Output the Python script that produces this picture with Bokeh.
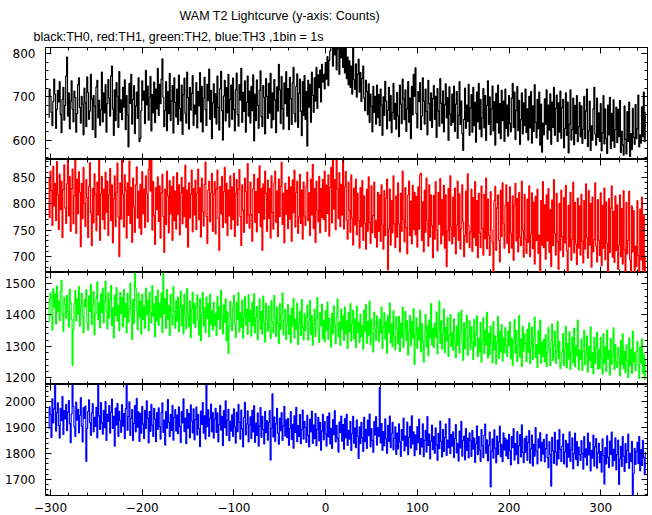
from bokeh.plotting import figure
from bokeh.models import Range1d, LinearAxis, SingleIntervalTicker, Title, CustomLabelingPolicy
from bokeh.layouts import column
from bokeh.embed import file_html
from bokeh.resources import INLINE

title_text = "WAM T2 Lightcurve (y-axis: Counts)"
subtitle_text = "black:TH0, red:TH1, green:TH2, blue:TH3 ,1bin = 1s"

t_start = -302  # first 1 s bin

th0 = [
    652, 718, 701, 664, 633, 689, 741, 706, 627, 671, 715, 688, 735, 659, 617, 694, 722, 646, 680, 748,
    792, 655, 709, 626, 690, 737, 671, 642, 713, 699, 618, 661, 728, 744, 675, 639, 701, 683, 612, 720,
    686, 631, 746, 710, 648, 667, 752, 695, 624, 703, 679, 606, 723, 738, 651, 692, 634, 670, 757, 642,
    709, 663, 728, 618, 684, 740, 697, 655, 748, 771, 672, 611, 716, 645, 733, 701, 629, 758, 664, 693,
    647, 722, 676, 739, 624, 703, 658, 584, 731, 685, 752, 637, 694, 726, 615, 679, 711, 650, 744, 596,
    604, 668, 737, 692, 713, 638, 761, 681, 725, 646, 699, 747, 621, 705, 663, 734, 640, 718, 672, 766,
    657, 729, 684, 741, 788, 699, 631, 668, 735, 622, 712, 661, 754, 645, 690, 726, 616, 744, 687, 653,
    718, 636, 750, 673, 644, 727, 613, 705, 743, 662, 639, 757, 698, 625, 722, 669, 708, 749, 634, 681,
    660, 733, 628, 712, 679, 756, 642, 724, 619, 697, 745, 670, 633, 729, 691, 764, 648, 715, 603, 686,
    730, 652, 707, 637, 748, 676, 623, 719, 759, 668, 600, 702, 738, 644, 721, 663, 752, 630, 694, 727,
    648, 743, 671, 621, 716, 755, 659, 632, 728, 692, 766, 641, 710, 666, 737, 618, 687, 748, 655, 713,
    639, 724, 668, 751, 598, 706, 645, 739, 680, 627, 715, 760, 654, 631, 726, 699, 614, 742, 701, 650,
    731, 662, 754, 628, 709, 647, 740, 693, 617, 723, 667, 775, 716, 638, 747, 672, 625, 732, 684, 758,
    655, 719, 624, 745, 696, 636, 732, 768, 661, 642, 724, 753, 629, 708, 741, 666, 610, 735, 657, 749,
    648, 712, 586, 738, 676, 729, 641, 757, 703, 664, 744, 690, 768, 673, 751, 721, 762, 688, 775, 734,
    752, 718, 779, 741, 793, 726, 784, 806, 822, 840, 771, 830, 797, 845, 762, 836, 811, 752, 828, 790,
    838, 768, 821, 755, 833, 742, 792, 728, 783, 722, 771, 706, 818, 739, 717, 776, 699, 752, 787, 711,
    756, 689, 742, 771, 697, 668, 738, 712, 659, 730, 641, 706, 678, 619, 724, 664, 701, 637, 727, 652,
    705, 633, 718, 681, 611, 700, 657, 736, 690, 626, 669, 722, 644, 703, 617, 664, 731, 648, 685, 625,
    710, 656, 608, 727, 683, 638, 741, 695, 647, 716, 620, 672, 735, 641, 697, 603, 724, 658, 752, 701,
    767, 661, 628, 712, 689, 733, 624, 655, 744, 690, 637, 718, 666, 612, 738, 684, 645, 709, 629, 696,
    726, 648, 701, 606, 719, 667, 632, 742, 685, 639, 714, 619, 682, 730, 651, 698, 599, 723, 660, 634,
    706, 641, 725, 620, 683, 712, 604, 657, 735, 636, 690, 615, 576, 648, 720, 627, 681, 643, 729, 611,
    674, 705, 618, 722, 633, 687, 595, 711, 642, 731, 625, 694, 607, 651, 719, 628, 703, 599, 680, 737,
    636, 700, 612, 672, 725, 621, 689, 588, 708, 640, 727, 616, 684, 603, 715, 645, 690, 597, 718, 627,
    681, 609, 703, 638, 619, 697, 731, 629, 711, 601, 668, 724, 622, 692, 590, 647, 709, 614, 686, 633,
    718, 617, 672, 600, 701, 628, 712, 593, 679, 620, 728, 641, 605, 694, 626, 711, 588, 683, 572, 639,
    612, 695, 636, 716, 602, 681, 623, 707, 590, 688, 629, 722, 611, 673, 704, 597, 686, 618, 713, 604,
    675, 694, 582, 627, 709, 611, 688, 570, 637, 716, 600, 624, 697, 589, 680, 615, 703, 596, 631, 687,
    607, 679, 592, 625, 701, 603, 667, 718, 585, 621, 690, 576, 633, 600, 672, 722, 614, 588, 697, 606,
    663, 597, 684, 575, 617, 703, 591, 672, 604, 569, 681, 612, 699, 580, 662, 598, 693, 583, 624, 676,
    594, 671, 608, 692, 571, 620, 589, 565, 679, 601, 568, 666, 597, 688, 562, 615, 578, 673, 606, 590,
    682, 603, 626, 704, 584, 612, 593, 677, 608, 711, 596, 664,
]

th1 = [
    848, 774, 862, 825, 759, 871, 796, 839, 768, 880, 817, 751, 856, 789, 843, 736, 827, 874, 792, 763,
    838, 890, 777, 852, 748, 829, 866, 762, 815, 893, 744, 847, 781, 861, 822, 719, 839, 772, 869, 801,
    757, 846, 812, 736, 833, 878, 783, 721, 829, 764, 857, 818, 749, 841, 779, 889, 731, 819, 852, 770,
    828, 752, 860, 784, 843, 740, 817, 867, 768, 836, 726, 810, 853, 757, 822, 877, 775, 700, 840, 771,
    893, 818, 756, 855, 826, 735, 840, 778, 881, 763, 831, 727, 849, 794, 746, 836, 870, 773, 824, 754,
    837, 742, 861, 781, 828, 755, 853, 819, 766, 865, 891, 824, 887, 750, 842, 778, 723, 831, 789, 851,
    767, 834, 735, 821, 856, 776, 708, 828, 761, 862, 815, 745, 844, 781, 833, 731, 852, 768, 824, 752,
    859, 780, 836, 741, 821, 850, 762, 831, 776, 873, 755, 826, 718, 840, 773, 818, 864, 747, 829, 779,
    845, 751, 820, 866, 770, 830, 737, 849, 785, 758, 837, 879, 776, 725, 826, 843, 766, 821, 858, 748,
    819, 842, 743, 828, 864, 772, 712, 833, 781, 852, 755, 823, 869, 764, 839, 740, 826, 777, 853, 752,
    832, 770, 858, 738, 819, 846, 759, 828, 865, 776, 721, 836, 787, 746, 849, 823, 763, 876, 779, 754,
    841, 779, 729, 829, 856, 765, 823, 747, 848, 783, 872, 757, 829, 712, 838, 771, 862, 820, 748, 845,
    772, 829, 735, 853, 784, 752, 840, 862, 765, 824, 738, 847, 776, 833, 879, 761, 820, 726, 839, 780,
    826, 753, 851, 771, 832, 729, 845, 783, 864, 756, 821, 843, 744, 776, 856, 763, 826, 733, 841, 777,
    759, 833, 860, 768, 821, 740, 847, 779, 875, 753, 829, 727, 843, 787, 766, 852, 745, 829, 774, 846,
    770, 862, 748, 835, 782, 855, 739, 831, 869, 764, 892, 790, 846, 751, 888, 828, 772, 859, 757, 837,
    779, 890, 752, 832, 861, 769, 733, 841, 787, 746, 855, 773, 722, 830, 760, 847, 741, 820, 768, 716,
    831, 757, 844, 731, 815, 763, 714, 828, 748, 851, 765, 725, 834, 745, 778, 841, 736, 769, 718, 822,
    748, 817, 729, 836, 760, 714, 825, 740, 811, 847, 675, 752, 828, 722, 806, 745, 853, 762, 717, 815,
    737, 840, 762, 709, 820, 748, 862, 771, 728, 831, 755, 705, 817, 843, 740, 805, 724, 835, 751, 822,
    741, 814, 718, 832, 752, 855, 858, 731, 804, 709, 826, 746, 849, 768, 720, 836, 737, 817, 759, 698,
    816, 733, 842, 750, 711, 822, 761, 848, 724, 808, 741, 835, 716, 817, 681, 749, 829, 730, 853, 756,
    724, 813, 738, 830, 705, 760, 843, 731, 819, 714, 753, 836, 766, 700, 740, 824, 727, 857, 758, 717,
    747, 828, 710, 812, 736, 842, 721, 806, 698, 820, 745, 717, 834, 753, 703, 818, 734, 849, 715, 809,
    740, 702, 823, 750, 727, 663, 806, 833, 712, 792, 817, 731, 690, 826, 738, 840, 762, 716, 797, 836,
    725, 803, 707, 832, 744, 716, 815, 693, 798, 839, 730, 810, 709, 822, 737, 721, 843, 749, 699, 818,
    733, 706, 809, 727, 834, 700, 743, 821, 715, 803, 686, 814, 731, 828, 706, 741, 668, 806, 722, 842,
    717, 798, 695, 817, 730, 829, 708, 789, 681, 807, 721, 846, 744, 703, 820, 728, 676, 801, 712, 826,
    738, 700, 812, 726, 835, 711, 666, 797, 719, 822, 693, 733, 841, 707, 803, 724, 685, 811, 716, 796,
    703, 818, 729, 688, 806, 714, 838, 736, 697, 825, 722, 801, 680, 813, 709, 732, 840, 720, 690, 808,
    731, 702, 821, 683, 797, 716, 830, 694, 804, 725, 671, 810, 708, 792, 834, 699, 786, 689, 815, 712,
    798, 676, 722, 817, 700, 791, 686, 825, 713, 665, 803, 705, 731, 824, 694, 672, 796, 709, 787, 664,
    720, 681, 806, 702, 667, 790, 694, 813, 675, 779, 668, 701,
]

th2 = [
    1378, 1451, 1470, 1396, 1352, 1483, 1425, 1466, 1371, 1492, 1410, 1444, 1382, 1475, 1510, 1401, 1348, 1457, 1433, 1389,
    1463, 1412, 1361, 1482, 1440, 1387, 1240, 1355, 1436, 1478, 1380, 1451, 1403, 1490, 1364, 1428, 1469, 1393, 1343, 1449,
    1426, 1480, 1376, 1352, 1461, 1411, 1497, 1369, 1432, 1474, 1337, 1402, 1455, 1505, 1384, 1438, 1359, 1467, 1407, 1484,
    1375, 1443, 1508, 1412, 1356, 1471, 1391, 1449, 1494, 1366, 1423, 1327, 1463, 1398, 1487, 1381, 1430, 1349, 1472, 1404,
    1455, 1362, 1481, 1394, 1437, 1343, 1468, 1377, 1420, 1501, 1399, 1322, 1449, 1373, 1541, 1486, 1413, 1353, 1470, 1392,
    1444, 1339, 1466, 1385, 1428, 1358, 1485, 1401, 1447, 1350, 1473, 1407, 1374, 1493, 1396, 1435, 1331, 1459, 1380, 1479,
    1367, 1438, 1392, 1470, 1344, 1539, 1404, 1452, 1357, 1481, 1386, 1429, 1335, 1465, 1399, 1368, 1490, 1411, 1358, 1446,
    1381, 1457, 1347, 1425, 1476, 1366, 1431, 1340, 1466, 1398, 1355, 1484, 1403, 1362, 1445, 1328, 1419, 1472, 1373, 1438,
    1360, 1428, 1464, 1381, 1337, 1451, 1318, 1400, 1472, 1365, 1423, 1345, 1457, 1389, 1436, 1331, 1466, 1370, 1414, 1352,
    1440, 1367, 1405, 1334, 1458, 1385, 1426, 1355, 1478, 1392, 1340, 1432, 1376, 1451, 1318, 1410, 1278, 1363, 1444, 1389,
    1350, 1426, 1462, 1372, 1329, 1439, 1386, 1471, 1346, 1408, 1361, 1447, 1326, 1394, 1458, 1368, 1419, 1338, 1465, 1379,
    1414, 1333, 1440, 1366, 1468, 1343, 1392, 1427, 1321, 1384, 1451, 1355, 1411, 1339, 1460, 1375, 1314, 1437, 1388, 1348,
    1429, 1360, 1325, 1446, 1379, 1343, 1462, 1390, 1332, 1425, 1372, 1309, 1436, 1354, 1402, 1470, 1337, 1384, 1417, 1322,
    1371, 1433, 1338, 1399, 1311, 1422, 1366, 1452, 1327, 1388, 1353, 1437, 1306, 1375, 1411, 1334, 1449, 1360, 1321, 1405,
    1349, 1392, 1431, 1320, 1380, 1446, 1338, 1399, 1304, 1370, 1418, 1331, 1389, 1455, 1352, 1313, 1408, 1366, 1434, 1325,
    1383, 1315, 1414, 1350, 1441, 1322, 1389, 1363, 1298, 1405, 1341, 1429, 1368, 1309, 1395, 1451, 1330, 1376, 1303, 1419,
    1355, 1397, 1319, 1425, 1339, 1381, 1294, 1408, 1346, 1436, 1317, 1372, 1415, 1324, 1387, 1297, 1428, 1343, 1377, 1312,
    1402, 1330, 1366, 1291, 1416, 1348, 1433, 1310, 1379, 1336, 1444, 1305, 1385, 1341, 1283, 1409, 1355, 1320, 1397, 1364,
    1315, 1386, 1342, 1425, 1293, 1360, 1407, 1323, 1378, 1278, 1398, 1344, 1438, 1312, 1371, 1299, 1413, 1331, 1289, 1394,
    1357, 1308, 1396, 1284, 1374, 1330, 1425, 1297, 1353, 1411, 1318, 1382, 1272, 1345, 1398, 1303, 1379, 1326, 1420, 1243,
    1338, 1391, 1294, 1360, 1321, 1415, 1283, 1373, 1316, 1250, 1349, 1402, 1298, 1366, 1270, 1384, 1327, 1436, 1305, 1358,
    1296, 1373, 1330, 1410, 1276, 1352, 1444, 1310, 1381, 1291, 1340, 1419, 1280, 1360, 1318, 1392, 1268, 1335, 1401, 1299,
    1345, 1287, 1388, 1319, 1264, 1365, 1303, 1407, 1279, 1348, 1415, 1314, 1256, 1376, 1293, 1357, 1399, 1272, 1330, 1382,
    1290, 1362, 1313, 1259, 1385, 1301, 1340, 1397, 1268, 1326, 1282, 1377, 1250, 1318, 1391, 1277, 1352, 1305, 1408, 1263,
    1342, 1274, 1365, 1311, 1248, 1379, 1289, 1334, 1244, 1312, 1395, 1262, 1348, 1283, 1370, 1254, 1326, 1280, 1360, 1301,
    1268, 1349, 1302, 1378, 1260, 1327, 1240, 1318, 1385, 1279, 1350, 1252, 1299, 1398, 1266, 1324, 1236, 1363, 1285, 1340,
    1310, 1251, 1354, 1282, 1375, 1245, 1298, 1361, 1258, 1326, 1393, 1264, 1306, 1233, 1350, 1277, 1384, 1247, 1313, 1268,
    1322, 1252, 1337, 1236, 1281, 1360, 1290, 1239, 1318, 1371, 1256, 1301, 1349, 1246, 1286, 1380, 1261, 1316, 1230, 1248,
    1283, 1341, 1239, 1295, 1364, 1232, 1310, 1260, 1347, 1227, 1279, 1329, 1248, 1358, 1236, 1302, 1271, 1384, 1226, 1288,
    1259, 1323, 1224, 1284, 1351, 1241, 1277, 1334, 1218, 1300, 1255, 1362, 1233, 1280, 1213, 1329, 1246, 1297, 1345, 1228,
    1291, 1230, 1328, 1263, 1212, 1341, 1248, 1299, 1221, 1352, 1260, 1287, 1209, 1325, 1243, 1274, 1359, 1226, 1306, 1251,
    1233, 1296, 1268, 1207, 1318, 1244, 1340, 1229, 1284, 1216, 1305, 1255, 1201, 1327, 1238, 1290, 1214, 1349, 1250, 1279,
    1222, 1285, 1316, 1240, 1198, 1298, 1247, 1324, 1215, 1276, 1196, 1262,
]

th3 = [
    1896, 1981, 1950, 1862, 2012, 1919, 1973, 2072, 1887, 1958, 1996, 1908, 1860, 1975, 1927, 2021, 1874, 1966, 1934, 1990,
    1889, 1960, 2005, 1915, 1842, 1953, 2068, 1982, 1902, 1866, 1999, 1929, 1971, 1880, 1948, 2016, 1906, 1845, 1978, 1936,
    1984, 1770, 1897, 1963, 2008, 1920, 1870, 1957, 1993, 1884, 1940, 1905, 1979, 1861, 2070, 1946, 1893, 1997, 1918, 1875,
    1967, 1900, 2001, 1851, 1952, 1924, 1986, 1879, 1960, 2011, 1897, 1944, 1829, 1976, 1911, 1994, 1866, 1963, 1928, 1882,
    1989, 1906, 1955, 1858, 1974, 2066, 1890, 1943, 2000, 1870, 1936, 1970, 1851, 1917, 1985, 1884, 2013, 1902, 1961, 1847,
    1955, 1879, 1983, 1914, 1858, 1967, 1897, 2004, 1935, 1841, 1962, 1886, 1990, 1910, 1866, 1975, 1932, 1846, 1958, 1893,
    1977, 1904, 1856, 1958, 1996, 1882, 1929, 1833, 1963, 1898, 2009, 1921, 1865, 1952, 1890, 1986, 1852, 1939, 1970, 1887,
    1949, 1877, 1981, 1905, 1843, 1962, 1919, 2012, 1885, 1937, 1838, 1970, 1898, 1955, 1861, 1988, 1926, 1880, 1973, 1853,
    1931, 1980, 1872, 1952, 1896, 1827, 1964, 1913, 1997, 1879, 1946, 1856, 2069, 1904, 1969, 1866, 1935, 1991, 1884, 1958,
    1860, 1933, 1975, 1882, 1957, 1845, 1912, 1986, 1891, 1944, 1831, 1966, 1900, 2004, 1870, 1929, 1971, 1850, 1925, 1887,
    1950, 1866, 1973, 1902, 1840, 1959, 1885, 1990, 1921, 1856, 1968, 1896, 1826, 1939, 1998, 1872, 1915, 1965, 1845, 1910,
    1942, 1858, 1967, 1884, 1985, 1843, 1918, 1870, 1957, 1829, 1906, 1978, 1863, 1944, 1893, 1837, 1963, 1881, 1927, 1852,
    1921, 1966, 1775, 1898, 2031, 1864, 1941, 1847, 1915, 1975, 1879, 1836, 1937, 1889, 1958, 1851, 1906, 1983, 1868, 1930,
    1862, 1936, 1832, 1897, 1962, 1855, 1913, 1821, 1946, 1882, 1979, 1846, 1908, 1866, 1951, 1838, 1894, 1968, 1856, 1925,
    1901, 1843, 1948, 1870, 1826, 1933, 1884, 1964, 1839, 1910, 1858, 1955, 1830, 1893, 1940, 1849, 1921, 1813, 1887, 1952,
    1853, 1924, 1877, 1829, 1943, 1864, 1957, 1837, 1898, 1820, 1931, 1873, 1966, 1845, 1909, 1860, 1806, 1922, 1881, 1945,
    1848, 1912, 1817, 1935, 1861, 1952, 1832, 1890, 1856, 1925, 1812, 1877, 1944, 1840, 1899, 1823, 1930, 1867, 1781, 1903,
    1839, 1921, 1862, 1808, 1940, 1846, 1894, 1820, 1929, 1869, 1953, 1826, 1897, 1851, 1805, 1924, 1872, 1943, 1833, 1900,
    1866, 2055, 1841, 1916, 1812, 1885, 1830, 1934, 1857, 1801, 1909, 1847, 1945, 1823, 1878, 1921, 1814, 1860, 1903, 1797,
    1879, 1818, 1915, 1845, 1789, 1893, 1852, 1937, 1810, 1868, 1829, 1922, 1796, 1863, 1905, 1821, 1946, 1837, 1884, 1792,
    1872, 1814, 1904, 1842, 1933, 1797, 1858, 1826, 1915, 1788, 1851, 1890, 1806, 1943, 1832, 1875, 1779, 1848, 1910, 1815,
    1866, 1801, 1899, 1834, 1774, 1878, 1819, 1926, 1847, 1787, 1893, 1808, 1862, 1914, 1793, 1852, 1823, 1935, 1800, 1873,
    1829, 1884, 1785, 1858, 1912, 1803, 1840, 1771, 1887, 1822, 1925, 1790, 1851, 1868, 1776, 1897, 1812, 1859, 1783, 1880,
    1851, 1789, 1889, 1817, 1860, 1766, 1838, 1907, 1796, 1866, 1813, 1770, 1893, 1830, 1784, 1870, 1914, 1801, 1853, 1772,
    1833, 1883, 1671, 1809, 1857, 1782, 1892, 1821, 1764, 1868, 1797, 1845, 1906, 1788, 1836, 1769, 1880, 1814, 1860, 1791,
    1852, 1780, 1874, 1810, 1756, 1866, 1823, 1897, 1775, 1839, 1796, 1885, 1761, 1830, 1873, 1787, 1911, 1805, 1765, 1858,
    1805, 1868, 1774, 1842, 1889, 1763, 1818, 1871, 1752, 1836, 1790, 1900, 1810, 1760, 1857, 1822, 1881, 1771, 1843, 1798,
    1855, 1768, 1819, 1874, 1784, 1745, 1846, 1797, 1674, 1863, 1811, 1762, 1882, 1806, 1755, 1852, 1779, 1893, 1816, 1769,
    1829, 1875, 1760, 1806, 1851, 1748, 1838, 1786, 1884, 1770, 1815, 1861, 1741, 1800, 1879, 1777, 1846, 1753, 1825, 1796,
    1774, 1850, 1801, 1740, 1866, 1786, 1818, 1755, 1879, 1795, 1843, 1733, 1812, 1782, 1871, 1751, 1826, 1858, 1744, 1803,
    1840, 1765, 1808, 1728, 1857, 1792, 1682, 1823, 1760, 1869, 1785, 1746, 1848, 1797, 1883, 1751, 1816, 1774, 1861, 1737,
    1796, 1852, 1681, 1779, 1828, 1750, 1866, 1790, 1731, 1839, 1765, 1812, 1875, 1743, 1801, 1769, 1847, 1636, 1722, 1820,
    1758, 1807, 1843, 1762, 1866, 1733, 1815, 1754, 1851, 1784, 1719, 1806,
]

x_limits = (-305.5, 351)
x_tick_interval = 100
x_tick_values = [-300, -200, -100]
x_tick_texts = ["\u2212300", "\u2212200", "\u2212100"]

series = [
    # values, colour, y limits, major tick interval
    (th0, "#000000", (555, 814), 100),
    (th1, "#ff0000", (670, 884), 50),
    (th2, "#00ff00", (1179, 1535), 100),
    (th3, "#0000ff", (1638, 2067), 100),
]

FONT_TICK = "DejaVu Sans"
FONT_TITLE = "Liberation Sans"

heights = [159, 113, 112, 131]
borders_top = [47, 0, 0, 0]
borders_bottom = [0, 0, 0, 20]

x_range = Range1d(*x_limits)


def style_axis(ax, show_labels, standoff):
    ax.major_tick_in = 6
    ax.major_tick_out = 0
    ax.minor_tick_in = 3
    ax.minor_tick_out = 0
    ax.axis_line_color = "black"
    ax.major_tick_line_color = "black"
    ax.minor_tick_line_color = "black"
    ax.major_label_text_font = FONT_TICK
    ax.major_label_text_color = "black"
    if show_labels:
        ax.major_label_text_font_size = "12px"
        ax.major_label_standoff = standoff
    else:
        ax.major_label_text_font_size = "0px"
        ax.major_label_standoff = 0
        ax.major_label_policy = CustomLabelingPolicy(
            code="for (const i of Array.from(indices)) indices.unset(i); return indices;")


figs = []
for i, (vals, col, ylim, yint) in enumerate(series):
    last = i == len(series) - 1
    p = figure(
        width=652, height=heights[i],
        x_range=x_range, y_range=Range1d(*ylim),
        toolbar_location=None, output_backend="svg", title=None,
        min_border_left=45, min_border_right=5,
        min_border_top=borders_top[i], min_border_bottom=borders_bottom[i],
        background_fill_color="white", border_fill_color="white",
        outline_line_color="black", outline_line_width=1,
    )
    p.grid.visible = False
    times = list(range(t_start, t_start + len(vals)))
    p.step(times, vals, line_color=col, line_width=1.2, mode="center")

    xa = p.xaxis[0]
    xa.ticker = SingleIntervalTicker(interval=x_tick_interval, num_minor_ticks=5)
    style_axis(xa, last, 7)
    if last:
        xa.major_label_overrides = dict(zip(x_tick_values, x_tick_texts))
    ya = p.yaxis[0]
    ya.ticker = SingleIntervalTicker(interval=yint, num_minor_ticks=5)
    style_axis(ya, True, 10)

    top = LinearAxis(ticker=SingleIntervalTicker(interval=x_tick_interval, num_minor_ticks=5))
    style_axis(top, False, 0)
    p.add_layout(top, "above")
    right = LinearAxis(ticker=SingleIntervalTicker(interval=yint, num_minor_ticks=5))
    style_axis(right, False, 0)
    p.add_layout(right, "right")

    if i == 0:
        sub = Title(text=subtitle_text, align="left", offset=-12,
                    text_font=FONT_TITLE, text_font_size="12.5px",
                    text_font_style="normal", text_color="black", standoff=7)
        p.add_layout(sub, "above")
        main = Title(text=title_text, align="left", offset=134,
                     text_font=FONT_TITLE, text_font_size="12.5px",
                     text_font_style="normal", text_color="black", standoff=4)
        p.add_layout(main, "above")
    figs.append(p)

layout = column(*figs, spacing=0)
open("out.html", "w").write(file_html(layout, INLINE))
